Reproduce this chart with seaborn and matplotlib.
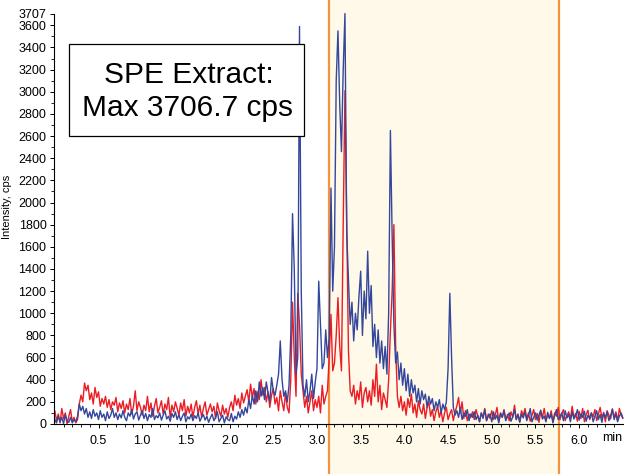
import numpy as np
import pandas as pd
import matplotlib
matplotlib.use("Agg")
import matplotlib.pyplot as plt
import matplotlib.transforms as mtransforms
from matplotlib.patches import Rectangle
import seaborn as sns

# ---------------- data ----------------
SAMPLE_STEP_MIN = 0.02  # sampling interval of the traces, minutes

blue_cps = [
    40, 10, 70, 20, 60, 5, 80, 30, 15, 60,            # 0.00
    10, 40, 20, 70, 180, 120, 160, 90, 140, 60,       # 0.20
    110, 50, 130, 70, 100, 40, 120, 60, 90, 30,       # 0.40
    110, 50, 80, 140, 60, 100, 40, 90, 55, 120,       # 0.60
    60, 30, 100, 70, 130, 45, 90, 110, 35, 80,        # 0.80
    120, 50, 95, 30, 85, 60, 140, 40, 75, 55,         # 1.00
    100, 35, 80, 120, 45, 70, 25, 95, 60, 110,        # 1.20
    40, 85, 30, 70, 100, 20, 65, 45, 90, 30,          # 1.40
    75, 50, 100, 25, 60, 85, 35, 70, 15, 55,          # 1.60
    90, 30, 60, 110, 20, 50, 80, 10, 65, 40,          # 1.80
    30, 95, 20, 70, 45, 110, 60, 130, 80, 150,        # 2.00
    100, 220, 140, 260, 180, 300, 200, 380, 250, 330, # 2.20
    220, 380, 280, 200, 420, 300, 260, 350, 450, 750, # 2.40
    400, 250, 300, 200, 350, 800, 1900, 1400, 450, 600,   # 2.60
    3590, 1200, 350, 250, 400, 200, 300, 450, 230, 380,   # 2.80
    500, 1290, 900, 500, 550, 850, 600, 780, 2130, 1200,  # 3.00
    1600, 3100, 3550, 2890, 2460, 3200, 3706.7, 1740, 1300, 900,  # 3.20
    1100, 750, 1000, 850, 1150, 1380, 800, 1200, 950, 1560,  # 3.40
    1000, 1250, 700, 900, 600, 850, 550, 750, 500, 700,   # 3.60
    450, 1000, 2650, 1700, 900, 550, 650, 400, 550, 350,  # 3.80
    500, 300, 450, 250, 400, 280, 350, 200, 320, 180,     # 4.00
    300, 220, 270, 150, 250, 180, 230, 120, 200, 150,     # 4.20
    220, 100, 180, 130, 200, 500, 1180, 600, 150, 80,     # 4.40
    120, 60, 150, 40, 100, 70, 130, 30, 90, 60,       # 4.60
    110, 40, 80, 20, 100, 50, 130, 30, 70, 90,        # 4.80
    20, 110, 45, 80, 10, 95, 60, 120, 30, 70,         # 5.00
    100, 25, 65, 130, 40, 85, 15, 90, 55, 110,        # 5.20
    30, 75, 140, 20, 60, 100, 35, 80, 125, 45,        # 5.40
    70, 20, 105, 50, 90, 10, 80, 130, 40, 65,         # 5.60
    100, 30, 120, 55, 85, 20, 110, 45, 75, 130,       # 5.80
    35, 90, 60, 115, 25, 80, 50, 100, 20, 70,         # 6.00
    120, 40, 85, 15, 95, 60, 110, 30, 75, 135,        # 6.20
    40, 90, 20, 70, 100, 55,                          # 6.40
]

red_cps = [
    120, 30, 90, 10, 140, 50, 100, 0, 70, 130,        # 0.00
    20, 60, 10, 40, 180, 260, 200, 370, 300, 350,     # 0.20
    220, 280, 180, 330, 240, 290, 160, 230, 180, 250, # 0.40
    150, 220, 130, 200, 170, 240, 110, 190, 140, 210, # 0.60
    100, 180, 130, 230, 90, 160, 300, 120, 200, 150,  # 0.80
    80, 170, 120, 250, 110, 190, 70, 160, 230, 100,   # 1.00
    150, 210, 90, 180, 130, 240, 60, 170, 110, 200,   # 1.20
    140, 80, 190, 120, 220, 70, 160, 100, 180, 60,    # 1.40
    150, 210, 90, 170, 60, 140, 200, 80, 130, 180,    # 1.60
    110, 160, 50, 190, 120, 70, 170, 90, 140, 60,     # 1.80
    150, 200, 120, 260, 170, 230, 140, 280, 190, 250, # 2.00
    310, 200, 360, 240, 320, 180, 290, 220, 400, 260, # 2.20
    330, 200, 290, 150, 260, 320, 180, 240, 120, 300, # 2.40
    200, 120, 280, 150, 100, 400, 1100, 600, 250, 1180,   # 2.60
    900, 450, 300, 150, 250, 100, 200, 300, 120, 220,     # 2.80
    150, 250, 100, 350, 180, 250, 300, 600, 990, 480,     # 3.00
    550, 800, 1140, 700, 480, 1800, 3010, 1800, 660, 300, # 3.20
    250, 350, 180, 300, 220, 380, 150, 280, 330, 200,     # 3.40
    300, 170, 400, 250, 540, 200, 350, 130, 280, 220,     # 3.60
    150, 400, 840, 1200, 1800, 700, 250, 150, 250, 120,   # 3.80
    200, 80, 230, 150, 270, 100, 180, 60, 210, 130,   # 4.00
    90, 180, 50, 150, 200, 70, 130, 30, 110, 160,     # 4.20
    60, 120, 20, 100, 150, 40, 90, 130, 30, 110,      # 4.40
    160, 240, 100, 200, 50, 120, 30, 90, 60, 110,     # 4.60
    40, 130, 70, 20, 100, 60, 140, 30, 90, 50,        # 4.80
    120, 40, 80, 150, 20, 100, 60, 130, 35, 85,       # 5.00
    30, 110, 60, 170, 40, 90, 20, 120, 75, 140,       # 5.20
    50, 100, 25, 80, 130, 40, 95, 15, 110, 60,        # 5.40
    140, 30, 85, 55, 120, 20, 100, 70, 150, 40,       # 5.60
    90, 130, 30, 75, 110, 45, 160, 60, 95, 25,        # 5.80
    115, 50, 140, 20, 85, 125, 40, 100, 65, 130,      # 6.00
    30, 90, 150, 55, 105, 20, 120, 80, 45, 135,       # 6.20
    60, 110, 30, 140, 80, 50,                         # 6.40
]

window_start_min = 3.14
window_end_min = 5.765
x_tick_values = [0.5, 1.0, 1.5, 2.0, 2.5, 3.0, 3.5, 4.0, 4.5, 5.0, 5.5, 6.0]
x_tick_labels = ["0.5", "1.0", "1.5", "2.0", "2.5", "3.0", "3.5", "4.0", "4.5", "5.0", "5.5", "6.0"]
y_tick_values = [0, 200, 400, 600, 800, 1000, 1200, 1400, 1600, 1800, 2000, 2200,
                 2400, 2600, 2800, 3000, 3200, 3400, 3600, 3707]
y_max = 3707
annotation_lines = ["SPE Extract:", "Max 3706.7 cps"]
x_unit_label = "min"
y_axis_label = "Intensity, cps"

# ---------------- figure ----------------
sns.set_theme(style="white")
plt.rcParams["font.family"] = ["Liberation Sans", "DejaVu Sans"]
plt.rcParams["text.color"] = "black"

BLUE = "#34479C"
RED = "#EC1C24"
SHADE = "#FEF9E8"
ORANGE = "#F5923E"

time_min = np.arange(len(blue_cps)) * SAMPLE_STEP_MIN
df = pd.DataFrame({"time": time_min[:len(red_cps)],
                   "blue": blue_cps[:len(time_min)],
                   "red": red_cps})

fig = plt.figure(figsize=(6.24, 4.74), dpi=100)
ax = fig.add_axes([53.5 / 624, 50 / 474, (624 - 53.5) / 624, 410.5 / 474])

# shaded window, spanning full figure height
trans = mtransforms.blended_transform_factory(ax.transData, fig.transFigure)
shade = Rectangle((window_start_min, 0), window_end_min - window_start_min, 1,
                  transform=trans, facecolor=SHADE, edgecolor="none",
                  clip_on=False, zorder=0.2)
ax.add_patch(shade)
for xv in (window_start_min, window_end_min):
    ax.plot([xv, xv], [0, 1], transform=trans, color=ORANGE, lw=1.6,
            clip_on=False, zorder=0.3)

sns.lineplot(data=df, x="time", y="red", color=RED, lw=1.0, ax=ax,
             estimator=None, sort=False, zorder=2)
sns.lineplot(data=df, x="time", y="blue", color=BLUE, lw=1.0, ax=ax,
             estimator=None, sort=False, zorder=2.1)

ax.set_xlim(-0.015, 6.513)
ax.set_ylim(0, y_max)
ax.set_facecolor("none")
fig.patch.set_facecolor("white")

for s in ("top", "right"):
    ax.spines[s].set_visible(False)
for s in ("left", "bottom"):
    ax.spines[s].set_color("black")
    ax.spines[s].set_linewidth(0.8)
    ax.spines[s].set_zorder(3)

ax.set_xticks(x_tick_values)
ax.set_xticklabels(x_tick_labels)
ax.set_xticks(np.arange(0.1, 6.5, 0.1), minor=True)
ax.set_yticks(y_tick_values)
ax.set_yticklabels([str(v) for v in y_tick_values])
ax.set_yticks(np.arange(100, 3700, 200), minor=True)
ax.tick_params(axis="both", which="major", labelsize=9, colors="black",
               direction="out", length=3, width=0.7, pad=2)
ax.tick_params(axis="both", which="minor", direction="out", length=2,
               width=0.6, colors="black")
ax.tick_params(axis="x", which="major", pad=5)
ax.tick_params(axis="both", which="both", bottom=True, left=True)

ax.set_xlabel("")
ax.set_ylabel(y_axis_label, fontsize=8, color="black")
ax.yaxis.set_label_coords((12 - 53.5) / 570.5, 0.53)

ax.text(6.375, -14 / 410.5, x_unit_label, fontsize=9, color="black",
        transform=mtransforms.blended_transform_factory(ax.transData, ax.transAxes),
        ha="center", va="center", clip_on=False)

# annotation box
box = Rectangle((69 / 624, (474 - 136) / 474), 235 / 624, 92 / 474,
                transform=fig.transFigure, facecolor="white", edgecolor="black",
                lw=0.9, zorder=5)
fig.patches.append(box)
fig.text(189 / 624, 1 - 75 / 474, annotation_lines[0], fontsize=21.5,
         color="black", ha="center", va="center", zorder=6)
fig.text(188 / 624, 1 - 108 / 474, annotation_lines[1], fontsize=21.5,
         color="black", ha="center", va="center", zorder=6)

fig.savefig("out.png", dpi=100)
